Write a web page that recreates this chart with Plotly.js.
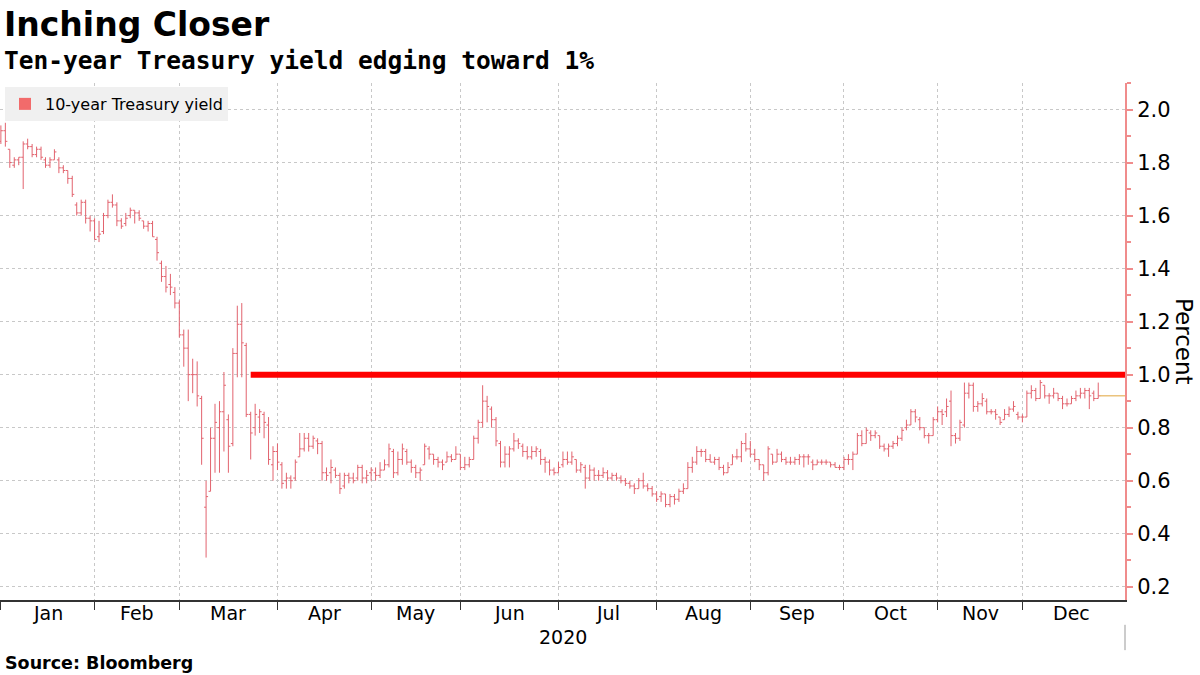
<!DOCTYPE html>
<html>
<head>
<meta charset="utf-8">
<script src="https://cdn.plot.ly/plotly-3.0.1.min.js"></script>
<style>
  html, body { margin: 0; padding: 0; background: #ffffff; }
  #chart { width: 1200px; height: 675px; }
</style>
</head>
<body>
<div id="chart"></div>
<script>
// ---- Data: daily bars [open, high, low, close], 10-year Treasury yield (%) ----
const dec2019 = [[1.88,1.94,1.87,1.92]];
const jan = [
  [1.92,1.95,1.86,1.88],[1.85,1.85,1.78,1.80],[1.79,1.82,1.78,1.81],[1.81,1.82,1.79,1.82],
  [1.82,1.88,1.70,1.87],[1.87,1.89,1.85,1.86],[1.86,1.87,1.82,1.83],[1.83,1.86,1.82,1.85],
  [1.85,1.86,1.81,1.82],[1.81,1.82,1.78,1.79],[1.79,1.82,1.78,1.81],[1.81,1.85,1.81,1.84],
  [1.81,1.82,1.76,1.78],[1.78,1.79,1.76,1.77],[1.77,1.77,1.72,1.74],[1.74,1.75,1.67,1.68],
  [1.64,1.65,1.60,1.61],[1.61,1.66,1.60,1.65],[1.65,1.66,1.57,1.59],[1.59,1.60,1.54,1.58],
  [1.58,1.59,1.51,1.51]
];
const feb = [
  [1.52,1.58,1.50,1.53],[1.54,1.61,1.53,1.60],[1.60,1.66,1.59,1.65],[1.65,1.68,1.63,1.64],
  [1.64,1.65,1.56,1.58],[1.58,1.59,1.55,1.56],[1.57,1.61,1.56,1.59],[1.60,1.63,1.59,1.62],
  [1.62,1.62,1.57,1.61],[1.61,1.62,1.58,1.59],[1.58,1.58,1.55,1.56],[1.56,1.58,1.54,1.57],
  [1.57,1.58,1.52,1.52],[1.51,1.52,1.43,1.46],[1.42,1.43,1.35,1.37],[1.37,1.41,1.31,1.33],
  [1.34,1.38,1.30,1.33],[1.31,1.33,1.25,1.27],[1.27,1.28,1.14,1.15]
];
const mar = [
  [1.15,1.17,1.03,1.10],[1.10,1.17,0.90,1.00],[1.00,1.06,0.93,1.00],[1.00,1.05,0.88,0.92],
  [0.91,0.92,0.66,0.76],[0.50,0.60,0.31,0.54],[0.56,0.80,0.56,0.76],[0.76,0.89,0.63,0.82],
  [0.80,0.90,0.63,0.86],[0.86,1.01,0.71,0.96],[0.83,0.85,0.63,0.73],[0.74,1.10,0.73,1.08],
  [1.08,1.26,0.99,1.19],[1.19,1.27,0.99,1.12],[1.11,1.12,0.84,0.85],[0.85,0.86,0.68,0.78],
  [0.80,0.89,0.77,0.85],[0.84,0.87,0.78,0.86],[0.85,0.86,0.76,0.82],[0.81,0.84,0.66,0.68],
  [0.66,0.73,0.60,0.71],[0.71,0.74,0.64,0.67]
];
const apr = [
  [0.66,0.67,0.57,0.59],[0.60,0.63,0.57,0.61],[0.61,0.62,0.57,0.60],[0.61,0.68,0.60,0.67],
  [0.69,0.78,0.69,0.72],[0.72,0.78,0.71,0.76],[0.76,0.78,0.71,0.73],[0.73,0.77,0.72,0.76],
  [0.75,0.76,0.70,0.74],[0.74,0.75,0.60,0.63],[0.63,0.65,0.60,0.62],[0.63,0.68,0.59,0.65],
  [0.64,0.65,0.61,0.62],[0.62,0.63,0.55,0.57],[0.58,0.63,0.57,0.62],[0.62,0.63,0.59,0.61],
  [0.61,0.63,0.59,0.60],[0.61,0.66,0.60,0.65],[0.65,0.66,0.59,0.61],[0.61,0.64,0.59,0.62],
  [0.63,0.65,0.60,0.64]
];
const may = [
  [0.63,0.65,0.60,0.62],[0.62,0.67,0.61,0.64],[0.64,0.68,0.64,0.66],[0.66,0.74,0.65,0.72],
  [0.71,0.72,0.61,0.63],[0.63,0.71,0.62,0.68],[0.68,0.74,0.66,0.72],[0.71,0.72,0.66,0.67],
  [0.67,0.68,0.63,0.65],[0.65,0.66,0.61,0.63],[0.63,0.65,0.60,0.64],[0.66,0.74,0.66,0.73],
  [0.72,0.73,0.68,0.70],[0.70,0.70,0.66,0.68],[0.68,0.69,0.65,0.67],[0.67,0.68,0.64,0.66],
  [0.67,0.71,0.67,0.69],[0.69,0.70,0.67,0.68],[0.68,0.73,0.68,0.70],[0.70,0.70,0.64,0.65]
];
const jun = [
  [0.65,0.69,0.64,0.66],[0.66,0.69,0.65,0.68],[0.68,0.77,0.68,0.76],[0.76,0.83,0.74,0.82],
  [0.82,0.96,0.80,0.90],[0.90,0.92,0.82,0.88],[0.87,0.88,0.80,0.83],[0.83,0.84,0.73,0.75],
  [0.74,0.75,0.65,0.67],[0.67,0.73,0.65,0.70],[0.70,0.73,0.65,0.72],[0.72,0.78,0.71,0.75],
  [0.75,0.76,0.72,0.74],[0.73,0.74,0.69,0.71],[0.71,0.73,0.68,0.69],[0.69,0.73,0.68,0.71],
  [0.71,0.73,0.69,0.72],[0.71,0.72,0.66,0.68],[0.68,0.69,0.63,0.67],[0.67,0.68,0.62,0.64],
  [0.64,0.65,0.62,0.63],[0.63,0.67,0.63,0.65]
];
const jul = [
  [0.66,0.71,0.65,0.68],[0.68,0.71,0.66,0.67],[0.67,0.71,0.66,0.69],[0.68,0.68,0.63,0.64],
  [0.64,0.67,0.63,0.66],[0.65,0.66,0.57,0.61],[0.61,0.66,0.60,0.64],[0.64,0.65,0.60,0.62],
  [0.62,0.64,0.60,0.62],[0.62,0.65,0.61,0.63],[0.63,0.64,0.60,0.61],[0.61,0.63,0.60,0.62],
  [0.62,0.63,0.60,0.61],[0.61,0.62,0.59,0.60],[0.60,0.61,0.58,0.59],[0.59,0.60,0.57,0.58],
  [0.58,0.59,0.55,0.57],[0.57,0.61,0.57,0.60],[0.60,0.63,0.57,0.58],[0.58,0.59,0.56,0.57],
  [0.57,0.58,0.54,0.55],[0.55,0.56,0.52,0.53]
];
const aug = [
  [0.54,0.56,0.52,0.55],[0.55,0.55,0.50,0.51],[0.51,0.55,0.50,0.54],[0.54,0.55,0.51,0.53],
  [0.53,0.57,0.52,0.56],[0.56,0.59,0.55,0.57],[0.57,0.67,0.57,0.65],[0.65,0.69,0.63,0.67],
  [0.67,0.73,0.66,0.71],[0.71,0.72,0.69,0.71],[0.71,0.72,0.67,0.68],[0.68,0.70,0.67,0.67],
  [0.67,0.69,0.66,0.68],[0.68,0.69,0.64,0.65],[0.65,0.66,0.62,0.63],[0.63,0.67,0.63,0.65],
  [0.66,0.70,0.66,0.69],[0.69,0.72,0.68,0.69],[0.69,0.75,0.67,0.74],[0.74,0.78,0.71,0.72],
  [0.72,0.75,0.69,0.70]
];
const sep = [
  [0.70,0.72,0.67,0.68],[0.68,0.68,0.64,0.66],[0.66,0.66,0.60,0.63],[0.63,0.73,0.62,0.72],
  [0.70,0.70,0.66,0.67],[0.67,0.72,0.67,0.70],[0.70,0.71,0.67,0.68],[0.68,0.69,0.66,0.67],
  [0.67,0.69,0.66,0.67],[0.67,0.69,0.66,0.68],[0.68,0.70,0.66,0.69],[0.69,0.70,0.65,0.69],
  [0.69,0.70,0.66,0.69],[0.67,0.68,0.64,0.66],[0.66,0.68,0.66,0.67],[0.67,0.68,0.66,0.67],
  [0.67,0.68,0.66,0.67],[0.67,0.67,0.65,0.66],[0.66,0.67,0.65,0.65],[0.65,0.66,0.64,0.65],
  [0.65,0.69,0.64,0.68]
];
const oct = [
  [0.68,0.70,0.66,0.68],[0.68,0.71,0.64,0.70],[0.70,0.78,0.70,0.77],[0.77,0.79,0.73,0.74],
  [0.74,0.80,0.74,0.79],[0.78,0.79,0.75,0.77],[0.77,0.79,0.76,0.78],[0.77,0.77,0.72,0.73],
  [0.73,0.74,0.71,0.72],[0.72,0.74,0.69,0.73],[0.73,0.75,0.72,0.74],[0.74,0.77,0.73,0.76],
  [0.76,0.80,0.75,0.79],[0.80,0.83,0.79,0.81],[0.81,0.87,0.81,0.86],[0.86,0.87,0.82,0.84],
  [0.83,0.84,0.79,0.80],[0.80,0.80,0.76,0.77],[0.77,0.78,0.74,0.77],[0.77,0.84,0.77,0.83],
  [0.83,0.88,0.82,0.86]
];
const nov = [
  [0.86,0.87,0.81,0.85],[0.86,0.91,0.84,0.88],[0.90,0.94,0.73,0.77],[0.77,0.78,0.74,0.76],
  [0.76,0.83,0.75,0.82],[0.81,0.97,0.80,0.93],[0.93,0.97,0.91,0.96],[0.96,0.97,0.86,0.88],
  [0.88,0.90,0.86,0.89],[0.89,0.93,0.88,0.91],[0.90,0.91,0.85,0.86],[0.86,0.87,0.85,0.86],
  [0.86,0.87,0.83,0.85],[0.84,0.84,0.81,0.82],[0.83,0.87,0.83,0.85],[0.85,0.88,0.84,0.87],
  [0.87,0.90,0.86,0.88],[0.85,0.86,0.83,0.84],[0.84,0.85,0.82,0.84]
];
const dec = [
  [0.84,0.94,0.84,0.93],[0.93,0.96,0.91,0.94],[0.94,0.95,0.90,0.91],[0.91,0.98,0.91,0.97],
  [0.96,0.96,0.91,0.92],[0.92,0.93,0.89,0.92],[0.92,0.95,0.91,0.93],[0.93,0.93,0.90,0.91],
  [0.91,0.92,0.87,0.89],[0.89,0.91,0.88,0.89],[0.89,0.92,0.89,0.91],[0.91,0.94,0.90,0.92],
  [0.92,0.95,0.91,0.93],[0.93,0.95,0.91,0.94],[0.94,0.95,0.87,0.92],[0.93,0.94,0.90,0.91],
  [0.91,0.97,0.91,0.92]
];

const monthLabels = ["Jan","Feb","Mar","Apr","May","Jun","Jul","Aug","Sep","Oct","Nov","Dec"];
const yearLabel = "2020";
const decTradingDays = 22;          // full December session count (axis runs to year end)
const referenceLevel = 1.0;         // the 1% line
const referenceStartMonth = 2;      // March
const referenceStartDay = 15;       // 16th trading bar of March (Mar 23)
const seriesName = "10-year Treasury yield";

// ---- Build series ----
const months = [jan, feb, mar, apr, may, jun, jul, aug, sep, oct, nov, dec];
const allBars = dec2019.concat(...months);
const xIdx = allBars.map((_, i) => i);
const openV = allBars.map(b => b[0]);
const highV = allBars.map(b => b[1]);
const lowV  = allBars.map(b => b[2]);
const closeV = allBars.map(b => b[3]);

// month boundaries: tick sits on last bar of the previous month
const monthTicks = [];
let acc = dec2019.length - 1;
months.forEach(m => { monthTicks.push(acc); acc += m.length; });
const yearEndIdx = monthTicks[11] + decTradingDays;
const boundaries = monthTicks.concat([yearEndIdx]);
const monthMid = monthLabels.map((_, i) => (boundaries[i] + boundaries[i + 1]) / 2);
const refStart = monthTicks[referenceStartMonth] + 1 + referenceStartDay;
const lastIdx = xIdx[xIdx.length - 1];
const lastClose = closeV[closeV.length - 1];

const barColor = '#e2636e';
const FONT = 'DejaVu Sans, Verdana, sans-serif';

const traces = [
  {
    type: 'ohlc', x: xIdx, open: openV, high: highV, low: lowV, close: closeV,
    increasing: { line: { color: barColor, width: 1 } },
    decreasing: { line: { color: barColor, width: 1 } },
    tickwidth: 0.45, showlegend: false, hoverinfo: 'skip'
  },
  {
    type: 'scatter', mode: 'markers', x: [null], y: [null], name: seriesName,
    marker: { symbol: 'square', size: 12, color: '#f26b6b' }, hoverinfo: 'skip'
  }
];

const xEnd = 252;
const annotations = monthLabels.map((m, i) => ({
  text: m, x: monthMid[i], xref: 'x', y: -0.025, yref: 'paper',
  showarrow: false, xanchor: 'center', yanchor: 'middle',
  font: { family: FONT, size: 19, color: '#000' }
}));
annotations.push(
  { text: yearLabel, x: 0.5, xref: 'paper', y: -0.0716, yref: 'paper', showarrow: false,
    xanchor: 'center', yanchor: 'middle', font: { family: FONT, size: 19, color: '#000' } },
  { text: '<b>Ten-year Treasury yield edging toward 1%</b>', x: 2 / 1125, xref: 'paper', y: 1.0435, yref: 'paper',
    showarrow: false, xanchor: 'left', yanchor: 'middle',
    font: { family: 'DejaVu Sans Mono, monospace', size: 24.5, color: '#000' } },
  { text: '<b>Source: Bloomberg</b>', x: 3 / 1125, xref: 'paper', y: -0.1219, yref: 'paper',
    showarrow: false, xanchor: 'left', yanchor: 'middle',
    font: { family: FONT, size: 17.5, color: '#000' } },
  { text: 'Percent', x: 1184 / 1125, xref: 'paper', y: 0.501, yref: 'paper', showarrow: false,
    textangle: 90, xanchor: 'center', yanchor: 'middle',
    font: { family: FONT, size: 23, color: '#000' } }
);

const layout = {
  width: 1200, height: 675,
  margin: { l: 0, r: 75, t: 83, b: 75, pad: 0 },
  paper_bgcolor: '#ffffff', plot_bgcolor: '#ffffff',
  title: {
    text: '<b>Inching Closer</b>', xref: 'container', yref: 'container',
    x: 4 / 1200, xanchor: 'left', y: 1 - 24 / 675, yanchor: 'middle',
    font: { family: FONT, size: 33, color: '#000' }
  },
  showlegend: true,
  legend: {
    x: 5 / 1125, y: 0.9923, xanchor: 'left', yanchor: 'top',
    bgcolor: '#f0f0f0', borderwidth: 0,
    font: { family: FONT, size: 16, color: '#000' }, itemwidth: 30
  },
  xaxis: {
    range: [-0.2, xEnd], tickmode: 'array', tickvals: monthTicks, ticktext: monthTicks.map(() => ''),
    showticklabels: false, ticks: 'outside', ticklen: 8, tickcolor: '#333', tickwidth: 1,
    showline: true, linecolor: '#333', linewidth: 1.5,
    showgrid: true, gridcolor: '#c8c8c8', griddash: 'dot', gridwidth: 1,
    zeroline: false, rangeslider: { visible: false }, fixedrange: true
  },
  yaxis: {
    side: 'right', range: [0.15, 2.1], tick0: 0.2, dtick: 0.2, tickformat: '.1f',
    ticks: 'outside', ticklen: 6, tickwidth: 2, tickcolor: '#f08c8c',
    minor: { dtick: 0.1, tick0: 0.1, ticks: 'outside', ticklen: 4, tickcolor: '#f08c8c', showgrid: false },
    showline: true, linecolor: '#f08c8c', linewidth: 2,
    showgrid: true, gridcolor: '#c8c8c8', griddash: 'dot', gridwidth: 1,
    zeroline: false, tickfont: { family: FONT, size: 21, color: '#000' }, fixedrange: true
  },
  shapes: [
    { type: 'line', xref: 'x', yref: 'y', x0: refStart, x1: xEnd, y0: referenceLevel, y1: referenceLevel,
      line: { color: '#ff0000', width: 6 }, layer: 'above' },
    { type: 'line', xref: 'x', yref: 'y', x0: lastIdx + 0.4, x1: xEnd, y0: lastClose, y1: lastClose,
      line: { color: '#e0a43a', width: 1 }, layer: 'above' },
    { type: 'line', xref: 'paper', yref: 'paper', x0: 1, x1: 1, y0: -0.048, y1: -0.097,
      line: { color: '#999999', width: 1 } }
  ],
  annotations: annotations
};

Plotly.newPlot('chart', traces, layout, { displayModeBar: false, staticPlot: true });
</script>
</body>
</html>
